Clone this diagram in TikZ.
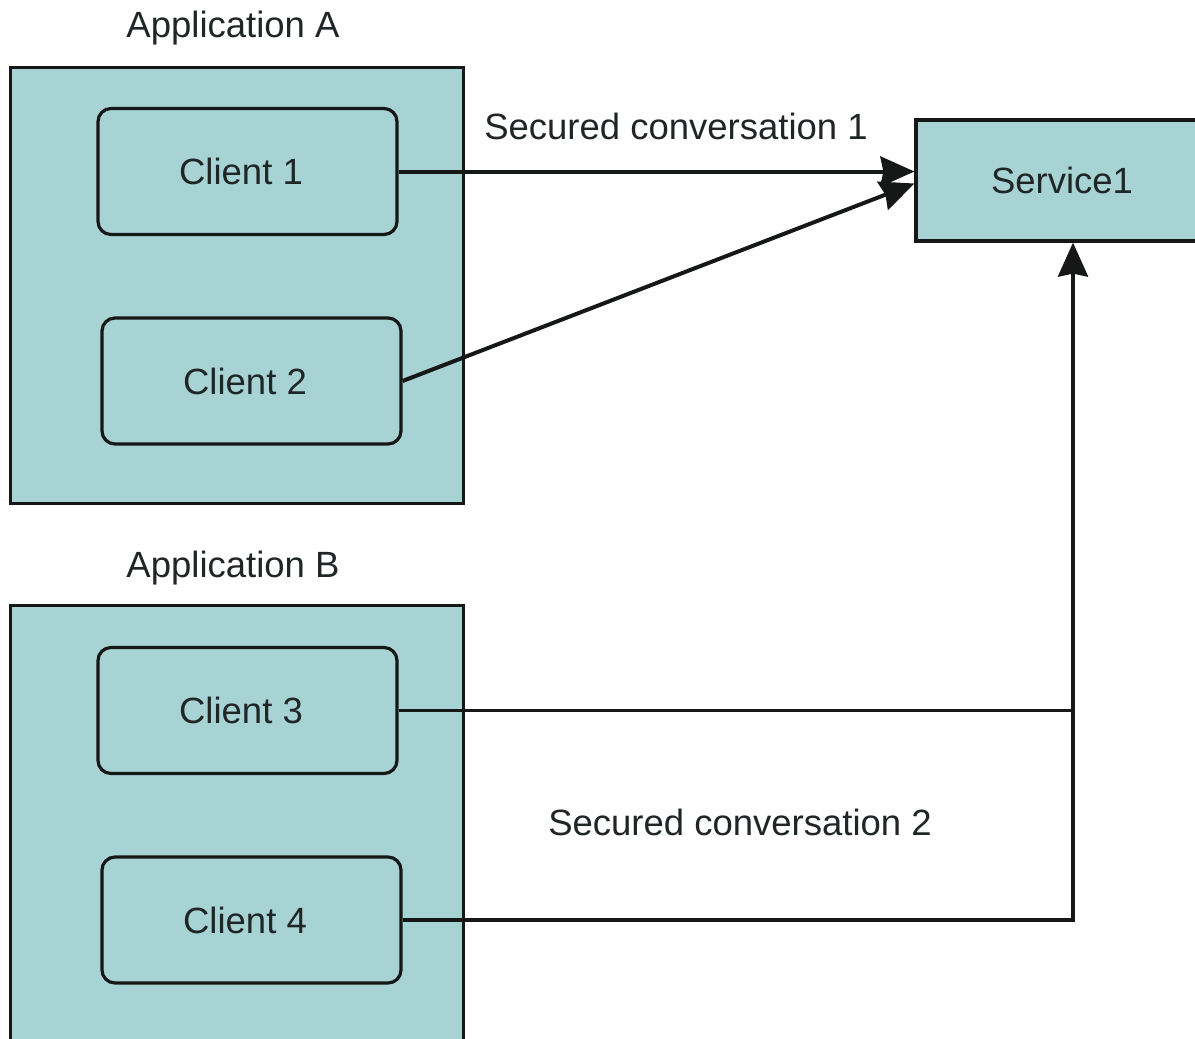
\documentclass[tikz,border=0pt]{standalone}
\usepackage{fontspec}
\setmainfont{Liberation Sans}
\usetikzlibrary{arrows.meta}
\definecolor{tealfill}{RGB}{167,211,212}
\definecolor{txt}{RGB}{32,38,38}
\definecolor{ln}{RGB}{22,24,24}
\begin{document}
\begin{tikzpicture}[x=1pt,y=-1pt,
  every node/.style={font=\fontsize{36.5}{43}\selectfont, text=txt, inner sep=0pt},
  appbox/.style={draw=ln, fill=tealfill, line width=3pt},
  client/.style={draw=ln, fill=tealfill, line width=3.2pt, rounded corners=13pt,
    minimum width=299pt, minimum height=126pt},
  svcbox/.style={draw=ln, fill=tealfill, line width=3.2pt,
    minimum width=299pt, minimum height=121pt},
  arr/.style={draw=ln, line width=4pt, -{Stealth[length=34pt,width=30pt,inset=3pt]}},
  plain/.style={draw=ln, line width=3.4pt}]
\useasboundingbox (0,0) rectangle (1195,1039);
\clip (0,0) rectangle (1195,1039);
% application containers
\node[appbox, minimum width=453pt, minimum height=436pt] (appA) at (236.5,285) {};
\node[appbox, minimum width=453pt, minimum height=495pt] (appB) at (236.5,852.5) {};
\node (labA) at (233,28) {Application A};
\node (labB) at (233,568) {Application B};
% clients
\node[client] (c1) at (247.5,171.5) {\hspace*{-13pt}Client 1};
\node[client] (c2) at (251.5,381) {\hspace*{-13pt}Client 2};
\node[client] (c3) at (247.5,710.5) {\hspace*{-13pt}Client 3};
\node[client] (c4) at (251.5,920) {\hspace*{-13pt}Client 4};
% service
\node[svcbox] (svc) at (1065.5,180.5) {\hspace*{-7pt}Service1};
% labels
\node (conv1) at (676,126) {Secured conversation 1};
\node (conv2) at (740,822) {Secured conversation 2};
% connectors
\coordinate (j) at (1073,710.5);
\draw[arr] (c1.east) -- (c1.east -| svc.west);
\draw[arr] (c2.east) -- ([yshift=-3pt]svc.west);
\draw[plain] (c3.east) -- (j);
\draw[arr] (c4.east) -| (svc.south -| j);
\end{tikzpicture}
\end{document}
